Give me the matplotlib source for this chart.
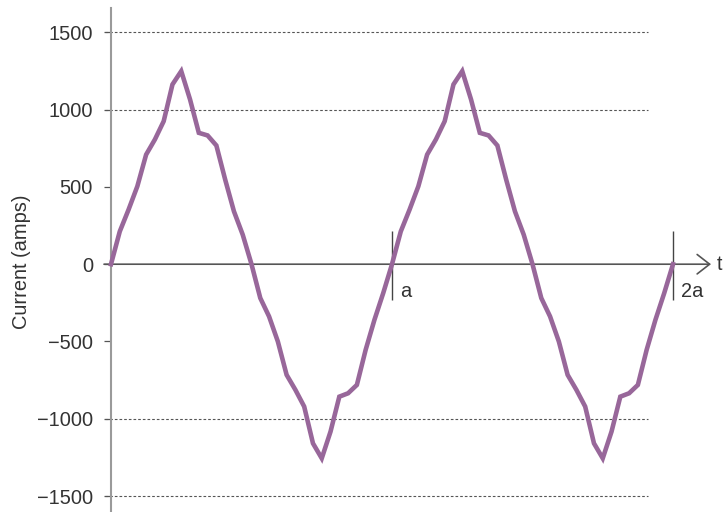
import numpy as np
import matplotlib
matplotlib.use('Agg')
import matplotlib.pyplot as plt

# ---- data ----
current = [0, 212, 353, 504, 709, 807, 925, 1163, 1249, 1066, 850, 833, 768, 548, 342, 191,
           0, -219, -338, -500, -716, -813, -921, -1159, -1256, -1083, -857, -835, -781, -554, -360, -187,
           0, 212, 353, 504, 709, 807, 925, 1163, 1249, 1066, 850, 833, 768, 548, 342, 191,
           0, -219, -338, -500, -716, -813, -921, -1159, -1256, -1083, -857, -835, -781, -554, -360, -187,
           0]
t = np.linspace(0, 2, len(current))          # time in units of a
yticks = [-1500, -1000, -500, 0, 500, 1000, 1500]
ytick_labels = ['\u22121500', '\u22121000', '\u2212500', '0', '500', '1000', '1500']
grid_levels = [-1500, -1000, 1000, 1500]
period_marks = [1, 2]
period_labels = ['a', '2a']

plt.rcParams['font.family'] = ['Liberation Sans', 'DejaVu Sans']

W, H = 727, 512
fig = plt.figure(figsize=(W / 100, H / 100), dpi=100)
ax = fig.add_axes([0, 0, 1, 1])

# pixel <-> data helpers for layout
X0, PXA = 111.0, 281.0
Y0, PXY = 264.2, 463.7 / 3000.0
def xd(px): return (px - X0) / PXA
def yd(py): return (Y0 - py) / PXY

ax.set_xlim(xd(0), xd(W))
ax.set_ylim(yd(H), yd(0))
ax.patch.set_alpha(0)

for s in ['top', 'right', 'bottom']:
    ax.spines[s].set_visible(False)
ax.spines['left'].set_position(('data', 0))
ax.spines['left'].set_bounds(yd(H + 2), yd(8))
ax.spines['left'].set_color('#9a9a9a')
ax.spines['left'].set_linewidth(1.5)

ax.set_xticks([])
ax.set_yticks(yticks)
ax.set_yticklabels(ytick_labels)
ax.tick_params(axis='y', direction='out', length=5, width=0.9, color='#555555',
               pad=8, labelsize=14.4, labelcolor='#333333')

# dotted gridlines
ax.hlines(grid_levels, xd(105), xd(648), colors='#555555', lw=0.8,
          linestyles=(0, (2.4, 1.8)), zorder=1)

# time axis with arrow
ax.annotate('', xy=(xd(711), 0), xytext=(xd(104), 0),
            arrowprops=dict(arrowstyle='->,head_length=0.45,head_width=0.35',
                            color='#555555', lw=1.2, mutation_scale=20,
                            shrinkA=0, shrinkB=0), zorder=2)
ax.text(xd(717), yd(264), 't', fontsize=14.4, color='#333333', ha='left', va='center')

# period marks
ax.vlines(period_marks, yd(300), yd(231), colors='#444444', lw=1.0, zorder=2)
for m, lab in zip(period_marks, period_labels):
    ax.text(m + xd(119) , yd(282), lab, fontsize=14.4, color='#333333', ha='left', va='top')

# waveform
ax.plot(t, current, color='#98679a', lw=3.3, solid_joinstyle='miter', zorder=3)

ax.set_ylabel('Current (amps)', fontsize=14.4, color='#333333')
ax.yaxis.set_label_coords(22 / W, 0.5 - (Y0 - H / 2) / H * 0 + (H / 2 - 262) / H)
ax.yaxis.label.set_verticalalignment('center')

fig.savefig('out.png', dpi=100)
